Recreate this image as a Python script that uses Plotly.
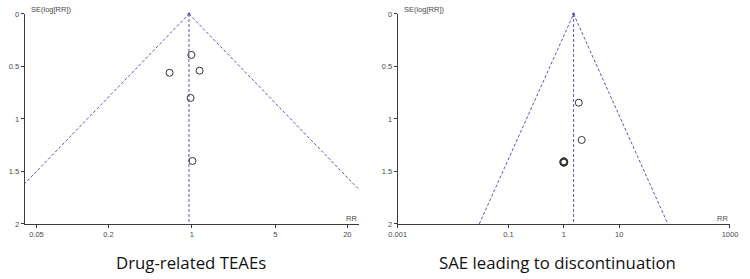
import plotly.graph_objects as go
import numpy as np

# ---- data ----
left_rr = [0.99, 0.65, 1.16, 0.975, 1.01]
left_se = [0.39, 0.56, 0.54, 0.80, 1.40]
left_pooled = 0.945

right_rr = [1.86, 2.1, 1.0, 1.0]
right_se = [0.845, 1.20, 1.41, 1.41]
right_pooled = 1.5

left_ticks = [0.05, 0.2, 1, 5, 20]
left_ticktext = ["0.05", "0.2", "1", "5", "20"]
right_ticks = [0.001, 0.1, 1, 10, 1000]
right_ticktext = ["0.001", "0.1", "1", "10", "1000"]
y_ticks = [0, 0.5, 1, 1.5, 2]
y_ticktext = ["0", "0.5", "1", "1.5", "2"]

captions = ["Drug-related TEAEs", "SAE leading to discontinuation"]
z = 1.96
se_max = 2.0

W, H = 750, 279
FUN = "#5656c8"
AX = "#3a3a3a"
TXT = "#4a4a4a"

fig = go.Figure()

def add_panel(rr, se, pooled, xa, ya):
    # funnel limits
    lo = np.exp(np.log(pooled) - z * se_max)
    hi = np.exp(np.log(pooled) + z * se_max)
    for xs in ([lo, pooled], [pooled, hi], [pooled, pooled]):
        ys = [se_max, 0] if xs[0] == lo else [0, se_max]
        fig.add_trace(go.Scatter(x=xs, y=ys, mode="lines",
                                 line=dict(color=FUN, width=1, dash="3px,2px"),
                                 xaxis=xa, yaxis=ya, hoverinfo="skip"))
    fig.add_trace(go.Scatter(x=[pooled], y=[0], mode="markers",
                             marker=dict(color=FUN, size=3),
                             xaxis=xa, yaxis=ya, hoverinfo="skip", cliponaxis=False))
    # overlapping studies drawn heavier, as in the reference
    widths = [1.8 if sum(1 for a, b in zip(rr, se) if a == r and b == s) > 1 else 1
              for r, s in zip(rr, se)]
    fig.add_trace(go.Scatter(x=rr, y=se, mode="markers",
                             marker=dict(symbol="circle-open", size=7,
                                         color="#333333", line=dict(width=widths, color="#333333")),
                             xaxis=xa, yaxis=ya, cliponaxis=False))

add_panel(left_rr, left_se, left_pooled, "x", "y")
add_panel(right_rr, right_se, right_pooled, "x2", "y2")

ytop = 1 - 10.3 / H
ybot = 1 - 227.3 / H
xd1 = [16 / W, 358.3 / W]
xd2 = [397.7 / W, 737.7 / W]

tickfont = dict(family="Liberation Sans, Arial", size=7.5, color=TXT)

def xaxis(dom, rng, tv, tt, anchor):
    return dict(domain=dom, type="log", range=rng, tickvals=tv, ticktext=tt,
                showline=True, linecolor=AX, linewidth=1, ticks="outside",
                ticklen=3, tickcolor=AX, tickwidth=1, showgrid=False,
                zeroline=False, tickfont=tickfont, anchor=anchor)

def yaxis(anchor):
    return dict(domain=[ybot, ytop], range=[2, 0], tickvals=y_ticks, ticktext=y_ticktext,
                showline=True, linecolor=AX, linewidth=1, ticks="outside",
                ticklen=3, tickcolor=AX, tickwidth=1, showgrid=False,
                zeroline=False, tickfont=tickfont, anchor=anchor)

ann = []
for dom, cap in zip([xd1, xd2], captions):
    ann.append(dict(text="SE(log[RR])", x=dom[0] + 4 / W, y=1 - 6 / H, xref="paper", yref="paper",
                    xanchor="left", yanchor="middle", showarrow=False,
                    font=dict(family="Liberation Sans, Arial", size=7.5, color=TXT)))
    ann.append(dict(text="RR", x=dom[1], y=1 - 222 / H, xref="paper", yref="paper",
                    xanchor="right", yanchor="middle", showarrow=False,
                    font=dict(family="Liberation Sans, Arial", size=7.5, color=TXT)))
for cx, cap in zip([186.5 / W, 561.5 / W], captions):
    ann.append(dict(text=cap, x=cx, y=1 - 267 / H, xref="paper", yref="paper",
                    xanchor="center", yanchor="middle", showarrow=False,
                    font=dict(family="Open Sans, sans-serif", size=16.8, color="#111111")))

fig.update_layout(
    width=W, height=H, margin=dict(l=0, r=0, t=0, b=0),
    paper_bgcolor="white", plot_bgcolor="white", showlegend=False,
    xaxis=xaxis(xd1, [-1.40, 1.40], left_ticks, left_ticktext, "y"),
    yaxis=yaxis("x"),
    xaxis2=xaxis(xd2, [-3, 3], right_ticks, right_ticktext, "y2"),
    yaxis2=yaxis("x2"),
    annotations=ann,
)

fig.write_html("out.html")
